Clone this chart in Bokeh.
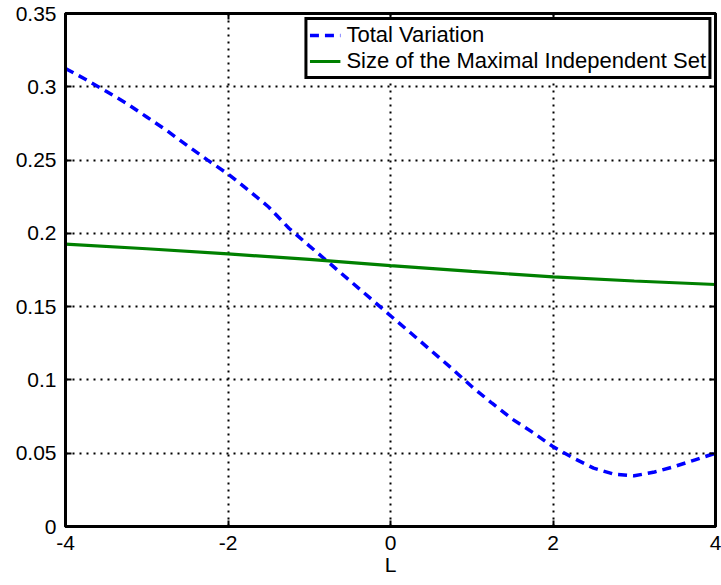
from bokeh.plotting import figure
from bokeh.models import Range1d, FixedTicker, LinearAxis, Legend, LegendItem
from bokeh.embed import file_html
from bokeh.resources import INLINE

# ---- data ----
L_values = [-4.0, -3.75, -3.5, -3.25, -3.0, -2.75, -2.5, -2.25, -2.0,
            -1.75, -1.5, -1.25, -1.0, -0.75, -0.5, -0.25, 0.0,
            0.25, 0.5, 0.75, 1.0, 1.25, 1.5, 1.75, 2.0,
            2.25, 2.5, 2.75, 3.0, 3.25, 3.5, 3.75, 4.0]
total_variation = [0.3125, 0.305, 0.297, 0.2887, 0.2794, 0.270, 0.2598, 0.2500, 0.2405,
                   0.2295, 0.218, 0.2035, 0.1915, 0.1796, 0.1677, 0.1558, 0.1438,
                   0.132, 0.120, 0.108, 0.0955, 0.0841, 0.0732, 0.0642, 0.0545,
                   0.0467, 0.0398, 0.0357, 0.0346, 0.0372, 0.041, 0.0455, 0.050]
L_mis = [-4.0, -3.0, -2.0, -1.0, 0.0, 1.0, 2.0, 3.0, 4.0]
mis_size = [0.1927, 0.1895, 0.186, 0.1822, 0.178, 0.174, 0.1703, 0.1675, 0.1651]

x_ticks = [-4, -2, 0, 2, 4]
x_tick_labels = ["-4", "-2", "0", "2", "4"]
y_ticks = [0.0, 0.05, 0.1, 0.15, 0.2, 0.25, 0.3, 0.35]
y_tick_labels = ["0", "0.05", "0.1", "0.15", "0.2", "0.25", "0.3", "0.35"]
series_names = ["Total Variation", "Size of the Maximal Independent Set"]
x_label = "L"

FONT = "Liberation Sans"

p = figure(width=721, height=585, output_backend="svg", toolbar_location=None,
           x_range=Range1d(-4, 4), y_range=Range1d(0, 0.35),
           min_border_left=65, min_border_right=6, min_border_top=13, min_border_bottom=59)
p.background_fill_color = "white"
p.border_fill_color = "white"
p.outline_line_color = "black"
p.outline_line_width = 3

r1 = p.line(L_values, total_variation, line_color="#0000ff", line_width=3.5, line_dash="9 6")
r2 = p.line(L_mis, mis_size, line_color="#008000", line_width=3.2)

for ax in p.xaxis:
    ax.ticker = FixedTicker(ticks=x_ticks)
    ax.major_label_overrides = {t: s for t, s in zip(x_ticks, x_tick_labels)}
    ax.major_label_standoff = 9
    ax.axis_label = x_label
    ax.axis_label_text_font = FONT
    ax.axis_label_text_font_size = "21px"
    ax.axis_label_text_font_style = "normal"
    ax.axis_label_text_color = "black"
    ax.axis_label_standoff = 0
for ax in p.yaxis:
    ax.ticker = FixedTicker(ticks=y_ticks)
    ax.major_label_overrides = dict(zip(y_ticks, y_tick_labels))
    ax.major_label_standoff = 9

for ax in list(p.xaxis) + list(p.yaxis):
    ax.major_label_text_font = FONT
    ax.major_label_text_font_size = "21px"
    ax.major_label_text_color = "black"
    ax.axis_line_width = 3
    ax.axis_line_color = "black"
    ax.major_tick_in = 6
    ax.major_tick_out = 0
    ax.major_tick_line_width = 2
    ax.minor_tick_line_color = None

# box axes on top and right (ticks only, no labels)
for loc, ticks in (("above", x_ticks), ("right", y_ticks)):
    ax2 = LinearAxis(ticker=FixedTicker(ticks=ticks), major_label_text_color=None,
                     major_label_text_font_size="1px", major_label_standoff=0,
                     major_tick_in=6, major_tick_out=0, major_tick_line_width=2,
                     axis_line_width=3, minor_tick_line_color=None)
    p.add_layout(ax2, loc)

for g in [p.xgrid[0], p.ygrid[0]]:
    g.grid_line_color = "black"
    g.grid_line_dash = "2 5"
    g.grid_line_width = 2
p.xgrid[0].ticker = FixedTicker(ticks=x_ticks)
p.ygrid[0].ticker = FixedTicker(ticks=y_ticks)

legend = Legend(items=[LegendItem(label=series_names[0], renderers=[r1]),
                       LegendItem(label=series_names[1], renderers=[r2])],
                location="top_right")
legend.margin = 4
legend.padding = 2
legend.spacing = 0
legend.glyph_width = 31
legend.glyph_height = 20
legend.label_height = 20
legend.label_standoff = 6
legend.label_text_font = FONT
legend.label_text_font_size = "22px"
legend.label_text_color = "black"
legend.border_line_color = "black"
legend.border_line_alpha = 1.0
legend.border_line_width = 3
legend.background_fill_color = "white"
legend.background_fill_alpha = 1.0
p.add_layout(legend, "center")

open("out.html", "w").write(file_html(p, INLINE))
